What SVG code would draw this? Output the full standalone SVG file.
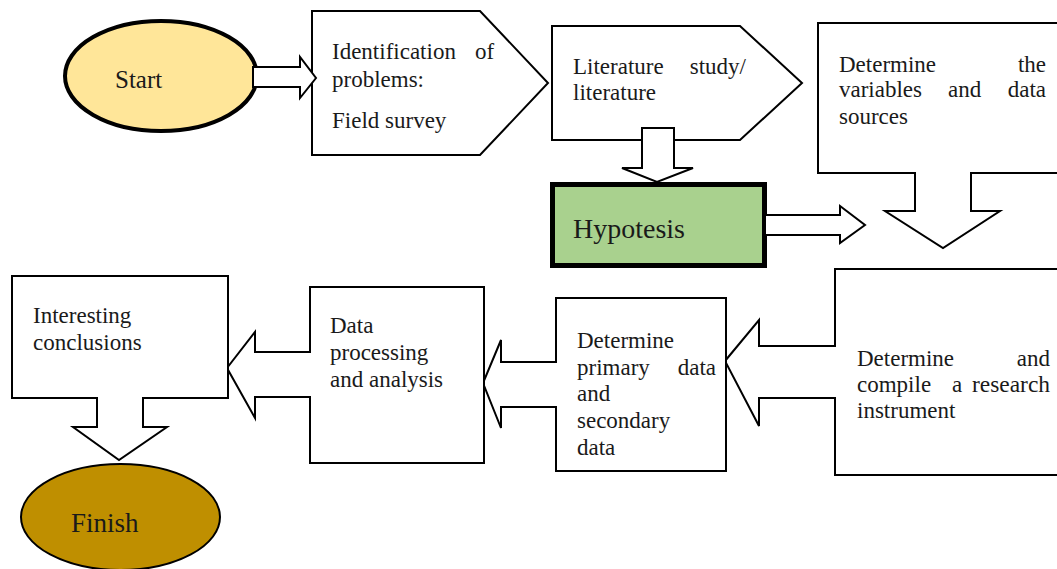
<svg xmlns="http://www.w3.org/2000/svg" width="1057" height="569" viewBox="0 0 1057 569">
<style>
.box{fill:#fff;stroke:#000;stroke-width:2;stroke-linejoin:miter}
.t{font-family:"Liberation Serif","Times New Roman",serif;font-size:23px;fill:#1a1a1a}
</style>
<rect width="1057" height="569" fill="#fff"/>
<g id="start">
<ellipse cx="161" cy="76" rx="96" ry="55" fill="#FFE699" stroke="#000" stroke-width="4"/>
<text class="t" x="115" y="88" style="font-size:25px">Start</text>
</g>
<g id="identification">
<path class="box" d="M312,11 L480,11 L548,83 L480,155 L312,155 Z"/>
<text class="t" x="332" y="59">Identification</text>
<text class="t" x="475" y="59">of</text>
<text class="t" x="332" y="87">problems:</text>
<text class="t" x="332" y="128">Field survey</text>
</g>
<g id="literature">
<path class="box" d="M552,26 L740,26 L802,83 L740,140 L552,140 Z"/>
<text class="t" x="573" y="74">Literature</text>
<text class="t" x="746" y="74" text-anchor="end">study/</text>
<text class="t" x="573" y="100">literature</text>
</g>
<g id="hypotesis">
<rect x="552.5" y="184.5" width="212" height="81" fill="#A9D18E" stroke="#000" stroke-width="5"/>
<text class="t" x="573" y="238" style="font-size:28px">Hypotesis</text>
</g>
<g id="variables">
<path class="box" d="M818,23 L1070,23 L1070,173 L971,173 L971,211 L1000,211 L943,248 L885,211 L915,211 L915,173 L818,173 Z"/>
<text class="t" x="839" y="72">Determine</text>
<text class="t" x="1046" y="72" text-anchor="end">the</text>
<text class="t" x="839" y="97">variables</text>
<text class="t" x="948" y="97">and</text>
<text class="t" x="1046" y="97" text-anchor="end">data</text>
<text class="t" x="839" y="124">sources</text>
</g>
<g id="instrument">
<path class="box" d="M835,269 L1070,269 L1070,475 L835,475 L835,398 L759,398 L759,426 L725,361 L759,320 L759,346 L835,346 Z"/>
<text class="t" x="857" y="366">Determine</text>
<text class="t" x="1050" y="366" text-anchor="end">and</text>
<text class="t" x="857" y="392">compile</text>
<text class="t" x="952" y="392">a</text>
<text class="t" x="972" y="392" textLength="78" lengthAdjust="spacingAndGlyphs">research</text>
<text class="t" x="857" y="418">instrument</text>
</g>
<g id="primary">
<path class="box" d="M556,298 L726,298 L726,471 L556,471 L556,407 L501,407 L501,428 L483,383 L501,340 L501,362 L556,362 Z"/>
<text class="t" x="577" y="348">Determine</text>
<text class="t" x="577" y="375">primary</text>
<text class="t" x="716" y="375" text-anchor="end">data</text>
<text class="t" x="577" y="401">and</text>
<text class="t" x="577" y="428">secondary</text>
<text class="t" x="577" y="455">data</text>
</g>
<g id="processing">
<path class="box" d="M310,287 L484,287 L484,463 L310,463 L310,397 L255,397 L255,418 L227,368 L255,332 L255,352 L310,352 Z"/>
<text class="t" x="330" y="333">Data</text>
<text class="t" x="330" y="360">processing</text>
<text class="t" x="330" y="387">and analysis</text>
</g>
<g id="conclusions">
<path class="box" d="M12,276 L228,276 L228,398 L143,398 L143,427 L167,427 L119,460 L73,427 L97,427 L97,398 L12,398 Z"/>
<text class="t" x="33" y="323">Interesting</text>
<text class="t" x="33" y="350">conclusions</text>
</g>
<g id="finish">
<ellipse cx="120.5" cy="517" rx="99.5" ry="53" fill="#BF8F00" stroke="#000" stroke-width="2"/>
<text class="t" x="71" y="532" style="font-size:27px">Finish</text>
</g>
<g id="connectors">
<path class="box" d="M253,67 L300,67 L300,57 L316,78 L300,98 L300,87 L253,87 Z"/>
<path class="box" d="M642,128 L674,128 L674,168 L693,168 L657,182 L622,168 L642,168 Z"/>
<path class="box" d="M765,215 L840,215 L840,206 L865,225 L840,243 L840,235 L765,235 Z"/>
</g>
</svg>
